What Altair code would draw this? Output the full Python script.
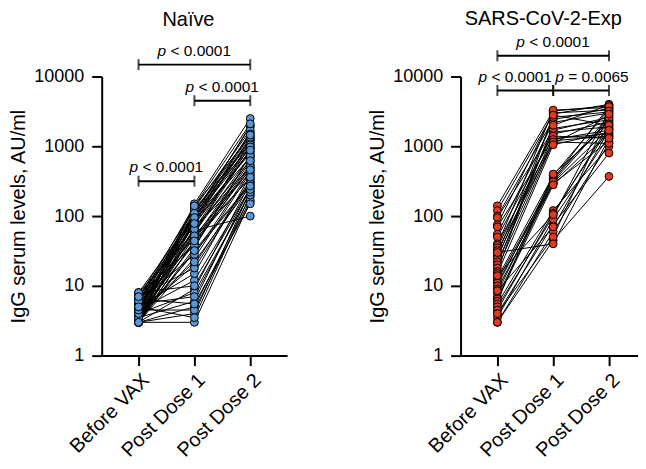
import altair as alt
import pandas as pd

FONT = "Liberation Sans"

stages = ["Before VAX", "Post Dose 1", "Post Dose 2"]
y_ticks = [1, 10, 100, 1000, 10000]

# Naive group: per-subject IgG (AU/ml)
naive_before = [3, 3, 3, 3, 3, 3, 3, 3, 3, 3, 3, 3,
                3.5, 3.5, 3.5, 3.5, 3.5,
                4, 4, 4, 4, 4, 4,
                4.5, 4.5, 4.5, 4.5,
                5, 5, 5, 5, 5,
                5.5, 5.5, 5.5,
                6, 6, 6, 6,
                6.5, 6.5,
                7, 7, 7,
                7.5,
                8, 8, 8,
                3, 3, 3.5, 4, 4.5, 5, 6, 7, 3, 5]
naive_dose1 = [3, 45, 80, 110, 4, 60, 25, 150, 9, 70, 35, 5,
               120, 50, 6, 90, 30,
               100, 8, 65, 40, 140, 20,
               4.5, 85, 55, 12,
               75, 130, 3.5, 95, 15,
               105, 42, 7,
               62, 115, 28, 88,
               5.5, 48,
               125, 72, 18,
               38,
               98, 10, 58,
               65, 32, 85, 22, 110, 52, 140, 95, 44, 78]
naive_dose2 = [160, 600, 1300, 1900, 230, 900, 420, 2500, 300, 500, 750, 190,
               1100, 350, 260, 1600, 280,
               2000, 210, 1000, 480, 1400, 330,
               170, 700, 1200, 250,
               850, 1700, 200, 950, 380,
               1250, 550, 220,
               100, 1500, 450, 800,
               150, 650,
               1150, 400, 310,
               520,
               1050, 240, 720,
               620, 290, 1350, 270, 980, 460, 2100, 1450, 360, 880]

# SARS-CoV-2 experienced group
exp_before = [140, 120, 100, 95, 75, 70, 55, 50, 40, 38, 35, 32, 28, 26, 25, 22, 20, 18, 16, 15,
              13, 12, 11, 10, 9, 8, 7, 6.5, 6, 5.5, 5, 4.5, 4, 3.5, 3, 3, 4, 30, 14, 8.5]
exp_dose1 = [3200, 2900, 2400, 1700, 3000, 1300, 2200, 1500, 1200, 3300, 1600, 1100, 2600, 1400,
             1800, 1250, 2000, 1150, 2800, 1050,
             380, 330, 300, 360, 290, 340, 310, 280, 400,
             120, 100, 110, 75, 90, 60, 45, 50, 40, 105, 70]
exp_dose2 = [3800, 4000, 3500, 2600, 3300, 1500, 3000, 2200, 1400, 3600, 1900, 2800, 3100, 1300,
             2400, 1700, 3900, 1100, 2000, 1600,
             3400, 2700, 1800, 2300, 1200, 3700, 2500, 1500, 2100,
             1000, 3200, 1800, 800, 1400, 1100, 370, 2900, 1300, 2000, 1700]

# significance brackets: from-stage, to-stage, level (AU/ml), relation, p value
naive_br_from = [0, 1, 0]
naive_br_to = [2, 2, 1]
naive_br_level = [14800, 4500, 316]
naive_br_rel = ["<", "<", "<"]
naive_br_p = ["0.0001", "0.0001", "0.0001"]

exp_br_from = [0, 0, 1]
exp_br_to = [2, 1, 2]
exp_br_level = [19800, 6300, 6300]
exp_br_rel = ["<", "<", "="]
exp_br_p = ["0.0001", "0.0001", "0.0065"]


def long_table(before, d1, d2):
    rows = []
    for i, vals in enumerate(zip(before, d1, d2)):
        for k, v in enumerate(vals):
            rows.append({"subject": i, "xi": k, "value": v})
    return pd.DataFrame(rows)


def bracket_table(f, t, lvl, rel, p):
    return pd.DataFrame({
        "xi": f, "xi2": t, "value": lvl,
        "xm": [(a + b) / 2 for a, b in zip(f, t)],
        "rest": [f"{r} {v}" for r, v in zip(rel, p)],
    })


label_expr = " : ".join(
    [f"datum.value == {i} ? '{s}'" for i, s in enumerate(stages[:-1])]
) + f" : '{stages[-1]}'"


def panel(df, br, title, color, text_shift, title_offset, width, x_max):
    x = alt.X("xi:Q", scale=alt.Scale(domain=[-0.66, x_max], nice=False, zero=False),
              axis=alt.Axis(values=[0, 1, 2], labelExpr=label_expr, labelAngle=315,
                            labelFontSize=20, labelPadding=4, labelOverlap=False,
                            labelBound=False),
              title=None)
    y = alt.Y("value:Q", scale=alt.Scale(type="log", domain=[1, 10000], nice=False),
              axis=alt.Axis(values=y_ticks, format="d", labelFontSize=18, labelPadding=8,
                            titlePadding=5, labelOverlap=False),
              title="IgG serum levels, AU/ml")
    lines = alt.Chart(df).mark_line(color="black", strokeWidth=1).encode(
        x=x, y=y, detail="subject:N")
    pts = alt.Chart(df).mark_circle(size=62, fill=color, stroke="black", strokeWidth=1,
                                    opacity=1).encode(x="xi:Q", y="value:Q")
    rule = alt.Chart(br).mark_rule(color="black", strokeWidth=2).encode(
        x="xi:Q", x2="xi2:Q", y="value:Q")
    caps_l = alt.Chart(br).mark_tick(orient="vertical", size=11, thickness=2,
                                     color="black").encode(x="xi:Q", y="value:Q")
    caps_r = alt.Chart(br).mark_tick(orient="vertical", size=11, thickness=2,
                                     color="black").encode(x="xi2:Q", y="value:Q")
    layers = [lines, pts, rule, caps_l, caps_r]
    for i in range(len(br)):
        row = br.iloc[[i]]
        s = text_shift[i]
        p_txt = alt.Chart(row).mark_text(text="p", fontStyle="italic", font=FONT, fontSize=15.5,
                                         align="left", baseline="alphabetic",
                                         dx=-37 + s, dy=-9).encode(x="xm:Q", y="value:Q")
        r_txt = alt.Chart(row).mark_text(font=FONT, fontSize=15.5, align="left",
                                         baseline="alphabetic", dx=-24 + s, dy=-9).encode(
            x="xm:Q", y="value:Q", text="rest:N")
        layers += [p_txt, r_txt]
    return alt.layer(*layers).properties(
        width=width, height=280,
        title=alt.TitleParams(title, fontSize=20, fontWeight="normal", font=FONT,
                              anchor="middle", offset=title_offset, dx=-6, color="black"))


left = panel(long_table(naive_before, naive_dose1, naive_dose2),
             bracket_table(naive_br_from, naive_br_to, naive_br_level, naive_br_rel, naive_br_p),
             "Naïve", "#5b97d5", [0, 0, 0], 14, 186, 2.66)
right = panel(long_table(exp_before, exp_dose1, exp_dose2),
              bracket_table(exp_br_from, exp_br_to, exp_br_level, exp_br_rel, exp_br_p),
              "SARS-CoV-2-Exp", "#e03a1f", [0, -10, 11], 6, 178, 2.52)

chart = alt.hconcat(left, right, spacing=80).properties(
    padding={"left": 0, "top": 0, "right": 0, "bottom": 0}
).configure_axis(
    labelFont=FONT, titleFont=FONT, titleFontSize=20, titleFontWeight="normal",
    labelColor="black", titleColor="black", domainColor="black", domainWidth=2,
    tickColor="black", tickWidth=2, tickSize=10, grid=False,
).configure_axisY(labelFontSize=18).configure_axisX(labelFontSize=20
).configure_view(stroke=None)

chart.save("out.html", embed_options={"renderer": "svg", "actions": False})
